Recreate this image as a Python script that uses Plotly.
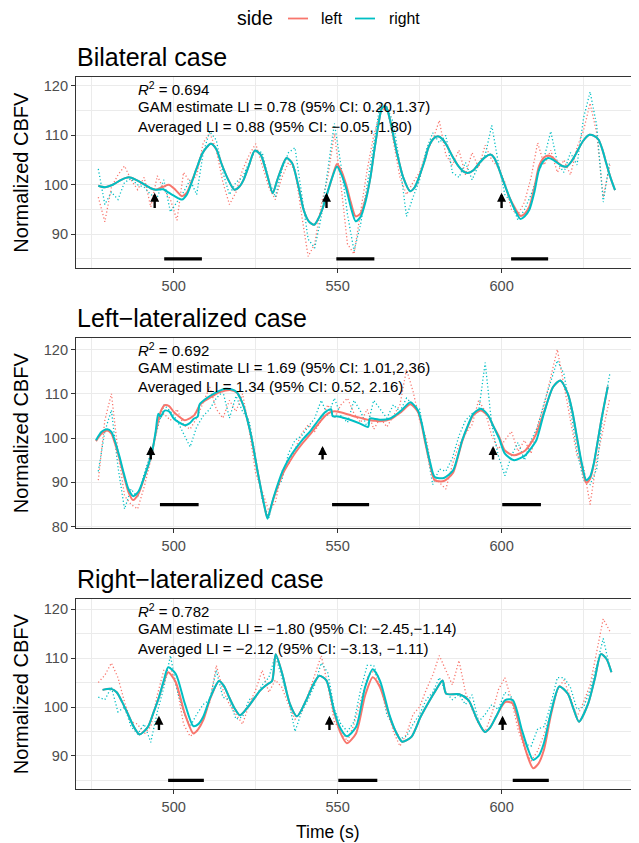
import plotly.graph_objects as go

RED = "#F8766D"
CYAN = "#00BFC4"
FONT = "Liberation Sans, Arial, Helvetica, sans-serif"

# ---------------- data ----------------
RAW_T = [477, 479, 481, 483, 485, 487, 489, 491, 493, 495,
         497, 499, 501, 503, 505, 507, 509, 511, 513, 515,
         517, 519, 521, 523, 525, 527, 529, 531, 533, 535,
         537, 539, 541, 543, 545, 547, 549, 551, 553, 555,
         557, 559, 561, 563, 565, 567, 569, 571, 573, 575,
         577, 579, 581, 583, 585, 587, 589, 591, 593, 595,
         597, 599, 601, 603, 605, 607, 609, 611, 613, 615,
         617, 619, 621, 623, 625, 627, 629, 631, 633]

P1_RAW_LEFT = [97.5, 92.5, 99.5, 102.0, 103.8, 101.0, 99.0, 101.5, 95.5, 101.8,
               99.0, 97.0, 92.8, 102.5, 100.5, 101.8, 108.5, 110.5, 107.0, 100.5,
               96.0, 98.5, 103.0, 106.0, 108.3, 104.0, 99.5, 97.0, 101.5, 104.5,
               103.0, 94.0, 85.5, 88.0, 96.0, 101.5, 110.4, 100.0, 88.0, 86.0,
               95.0, 103.0, 110.0, 114.5, 116.0, 109.0, 101.5, 98.0, 100.5, 102.5,
               106.5, 109.0, 113.0, 106.0, 104.0, 107.0, 102.0, 106.5, 103.5, 108.0,
               105.0, 103.5, 100.5, 95.0, 94.0, 96.5, 101.5, 108.5, 104.0, 107.0,
               102.5, 105.0, 102.0, 107.5, 111.0, 116.5, 110.5, 97.5, 104.0]
P1_RAW_RIGHT = [103.2, 96.0, 98.5, 97.0, 100.5, 101.2, 100.0, 99.5, 98.0, 97.5,
                101.0, 94.5, 96.5, 98.5, 101.0, 98.0, 106.5, 110.8, 109.0, 102.5,
                98.0, 100.5, 101.5, 104.5, 107.0, 106.5, 101.0, 97.5, 103.0, 106.5,
                107.5, 98.5, 89.0, 87.2, 93.5, 103.0, 112.4, 104.0, 94.0, 86.6,
                92.0, 100.0, 108.0, 116.5, 115.8, 112.5, 104.0, 93.6, 97.5, 101.0,
                107.0, 110.5, 108.5, 110.0, 102.5, 101.5, 104.5, 101.0, 104.0, 106.0,
                112.0, 104.5, 98.0, 96.5, 92.8, 95.0, 98.0, 102.0, 105.5, 110.8,
                104.5, 102.5, 106.5, 104.0, 113.5, 118.8, 112.0, 96.5, 104.8]

P2_RAW_LEFT = [90.5, 104.0, 110.0, 97.0, 87.0, 85.0, 84.0, 89.0, 95.0, 103.5,
               105.5, 104.0, 106.5, 103.0, 102.0, 104.5, 108.0, 111.5, 106.5, 104.5,
               108.5, 106.0, 110.0, 102.0, 92.0, 88.0, 83.5, 85.5, 92.5, 94.0,
               97.5, 101.0, 103.0, 101.5, 104.0, 107.5, 104.5, 107.5, 109.0, 105.5,
               103.5, 106.5, 102.0, 104.5, 102.5, 105.0, 107.5, 115.5, 110.5, 104.0,
               100.0, 91.5, 90.0, 88.5, 94.0, 98.5, 101.0, 103.0, 108.5, 106.0,
               100.5, 97.5, 99.5, 101.5, 97.0, 99.5, 96.5, 103.0, 107.5, 114.0,
               120.0, 112.0, 104.0, 96.0, 93.5, 85.0, 95.0, 102.0, 109.0]
P2_RAW_RIGHT = [92.5, 101.5, 106.3, 93.5, 84.0, 88.5, 86.5, 92.0, 96.5, 102.0,
                107.5, 106.0, 104.0, 101.0, 98.0, 102.5, 105.0, 106.5, 109.0, 110.5,
                104.5, 109.5, 106.0, 104.0, 95.5, 86.0, 82.0, 88.0, 90.5, 96.5,
                99.5, 100.5, 102.5, 104.5, 108.5, 105.0, 109.0, 105.0, 103.5, 108.5,
                106.0, 102.5, 108.5, 106.5, 104.5, 107.5, 106.0, 109.0, 107.5, 106.5,
                97.5, 89.5, 93.0, 92.5, 95.5, 100.5, 104.0, 105.5, 106.0, 117.0,
                103.0, 96.0, 91.5, 96.0, 99.0, 95.0, 99.5, 102.5, 108.0, 112.5,
                117.5, 114.5, 106.5, 97.0, 90.5, 89.5, 93.0, 106.0, 114.5]

P3_RAW_LEFT = [105.0, 106.5, 109.0, 106.0, 101.0, 97.0, 96.5, 94.5, 96.0, 102.5,
               107.5, 108.0, 104.0, 96.5, 94.0, 95.0, 97.5, 101.0, 108.5, 103.5,
               100.5, 98.5, 96.5, 100.5, 103.5, 107.5, 103.0, 105.5, 104.0, 100.5,
               97.5, 99.0, 102.5, 106.5, 110.5, 104.5, 97.0, 95.0, 93.0, 96.5,
               101.5, 106.0, 107.5, 104.0, 100.0, 95.0, 92.0, 94.5, 98.5, 100.0,
               103.5, 106.5, 110.5, 107.5, 104.5, 109.5, 103.0, 99.5, 96.5, 95.0,
               98.5, 103.5, 106.0, 101.5, 95.5, 91.5, 89.0, 91.0, 94.5, 99.0,
               103.5, 105.5, 102.0, 98.0, 101.0, 104.5, 111.0, 118.0, 115.5]
P3_RAW_RIGHT = [102.0, 101.5, 104.0, 99.0, 100.0, 96.0, 94.5, 96.5, 92.8, 99.0,
                104.0, 110.5, 103.5, 99.0, 96.0, 98.5, 100.5, 101.5, 107.5, 102.0,
                101.5, 97.5, 98.0, 101.5, 102.0, 104.5, 106.0, 110.5, 106.0, 101.5,
                95.0, 99.0, 101.5, 104.5, 109.0, 107.0, 99.5, 96.5, 95.0, 97.0,
                103.5, 108.5, 108.5, 105.0, 98.5, 96.0, 93.5, 94.0, 96.5, 98.5,
                101.5, 103.0, 106.0, 103.0, 101.5, 102.5, 100.5, 102.5, 97.0, 98.5,
                100.5, 99.5, 103.0, 102.0, 97.0, 92.5, 92.0, 95.5, 96.0, 100.5,
                106.0, 106.0, 104.0, 99.5, 100.0, 103.5, 108.5, 114.0, 108.0]

# GAM smooth fits
P1_T = [477, 479, 481.4, 484, 486.3, 488.5, 490.5, 493, 494.5, 496.8,
        498.5, 500.5, 502.5, 504, 505.4, 507, 508.8, 511.3, 513, 514.5,
        516.5, 518.5, 520, 521.3, 523, 524.7, 526.5, 528.5, 530.2, 531.5,
        532.7, 534.4, 536.1, 538, 539.6, 541.2, 542.8, 544, 545.3, 546.7,
        548.1, 549.8, 551.2, 552.7, 554, 555.5, 557, 558.4, 560, 561.2,
        562.4, 563.5, 564.5, 565.2, 566.5, 568.1, 570, 572.1, 573.5, 574.9,
        576.5, 577.8, 579.2, 580.6, 582, 583.5, 585.2, 586.9, 588.3, 589.7,
        591.5, 593.2, 595, 596.6, 597.8, 598.9, 600.5, 602.3, 604, 605.7,
        607, 608.5, 610, 611.4, 612.8, 614.2, 615.6, 617.1, 618.5, 619.9,
        621.4, 622.8, 624.8, 626.8, 628.2, 629.6, 630.8, 631.9, 633.2, 634.6]
P1_FIT_RIGHT = [99.8, 99.5, 100.0, 101.0, 101.5, 101.0, 100.3, 99.3, 99.0, 99.1,
                98.4, 97.6, 97.0, 98.0, 100.3, 103.3, 106.4, 108.3, 107.2, 104.4,
                101.2, 99.0, 99.6, 101.0, 104.0, 106.9, 106.1, 102.0, 98.3, 100.8,
                103.0, 105.4, 104.4, 99.8, 95.0, 92.6, 91.9, 93.0, 95.0, 98.0,
                101.0, 103.7, 102.0, 99.0, 95.5, 92.6, 93.5, 96.3, 101.5, 107.0,
                112.0, 115.5, 115.9, 115.1, 111.5, 106.4, 101.5, 98.7, 99.5, 101.7,
                104.8, 107.7, 109.3, 109.8, 109.2, 107.7, 105.5, 103.7, 102.7, 102.4,
                103.0, 104.4, 105.6, 106.1, 105.4, 103.7, 100.8, 97.6, 95.0, 93.1,
                93.6, 95.0, 98.5, 103.0, 104.8, 105.4, 105.1, 104.4, 103.8, 103.7,
                104.8, 106.4, 108.8, 110.1, 109.9, 109.1, 107.0, 104.4, 101.5, 98.9]
P1_FIT_LEFT = [99.8, 99.5, 100.0, 101.0, 101.5, 101.0, 100.3, 99.3, 99.0, 99.6,
               100.0, 99.0, 97.7, 98.4, 100.5, 103.3, 106.4, 108.3, 107.2, 104.4,
               101.2, 99.0, 99.6, 101.0, 104.0, 106.9, 106.1, 102.0, 98.3, 100.8,
               103.0, 105.4, 104.4, 99.8, 95.0, 92.6, 91.9, 93.0, 95.0, 98.0,
               101.0, 104.2, 102.7, 99.8, 96.5, 93.6, 94.2, 96.8, 101.5, 107.0,
               112.0, 115.5, 115.9, 115.1, 111.5, 106.4, 101.5, 98.7, 99.5, 101.7,
               104.8, 107.7, 109.3, 109.8, 109.2, 107.7, 105.5, 103.7, 102.7, 102.4,
               103.0, 104.4, 105.6, 106.1, 105.4, 103.7, 100.8, 97.6, 95.4, 93.7,
               94.1, 95.6, 99.4, 103.7, 105.4, 105.9, 105.5, 104.5, 103.8, 103.7,
               104.8, 106.4, 108.8, 110.1, 109.9, 109.1, 107.0, 104.4, 101.5, 98.9]

P2_T = [476.3, 478, 479.7, 481, 482, 483.4, 484.8, 486.2, 487.6, 489.3,
        491, 492.3, 493.5, 494.5, 495.3, 496, 497.2, 498.6, 500, 501.7,
        503.4, 504.8, 506.2, 507.3, 507.9, 509.5, 511.3, 513.5, 515.8, 517.5,
        519.2, 520.3, 521.4, 522.5, 523.7, 525.7, 527.7, 528.6, 529.5, 530.5,
        533.3, 535.2, 537.2, 539.5, 541.8, 544, 546.3, 548, 548.5, 549.7,
        552, 554.2, 556.7, 559.3, 559.8, 561.5, 563.2, 566, 567.7, 569.4,
        572.2, 574.5, 575.6, 576.7, 578.2, 579.6, 582.4, 585.2, 586.6, 588,
        589.7, 591.4, 593.7, 595.9, 597.6, 599.3, 601, 603.8, 607.2, 608.9,
        610.6, 612.9, 615.7, 617.9, 620.2, 621.6, 623, 624.4, 625.8, 627,
        628.1, 630.4, 632.4]
P2_FIT_RIGHT = [99.5, 101.4, 102.0, 101.4, 99.5, 96.0, 92.0, 88.5, 86.9, 88.0,
                91.2, 94.0, 97.2, 101.5, 105.5, 104.8, 106.2, 106.0, 104.4, 103.5,
                102.9, 103.3, 104.4, 104.8, 107.6, 108.7, 109.6, 110.5, 111.1, 111.0,
                110.4, 109.0, 107.0, 104.0, 100.2, 92.0, 84.5, 81.8, 84.0, 86.7,
                92.7, 95.4, 97.6, 99.8, 101.7, 103.9, 105.9, 106.5, 104.9, 104.9,
                104.5, 104.0, 103.3, 102.5, 104.4, 104.3, 104.1, 104.4, 105.2, 106.2,
                108.1, 106.2, 103.5, 99.5, 94.5, 91.2, 91.0, 92.7, 95.8, 99.5,
                102.8, 105.5, 106.6, 105.1, 102.5, 99.8, 96.5, 95.0, 96.1, 97.6,
                99.5, 105.5, 111.5, 113.0, 110.0, 106.0, 100.2, 94.5, 90.5, 91.3,
                94.2, 104.0, 111.6]
P2_FIT_LEFT = [99.3, 101.0, 101.7, 101.0, 99.0, 95.5, 91.5, 87.8, 86.0, 87.5,
               91.0, 94.0, 97.2, 101.0, 104.0, 105.9, 107.4, 107.2, 105.9, 104.8,
               104.0, 104.4, 105.1, 106.5, 107.4, 108.4, 109.2, 110.2, 110.7, 110.8,
               110.3, 109.0, 107.0, 104.0, 100.2, 92.0, 84.5, 82.0, 84.0, 86.5,
               92.0, 94.5, 96.8, 99.0, 101.0, 103.1, 105.1, 105.9, 106.0, 106.0,
               105.6, 105.1, 104.6, 104.1, 104.0, 103.9, 103.8, 104.2, 105.0, 105.9,
               107.6, 105.9, 103.0, 99.0, 94.0, 90.5, 90.3, 92.2, 95.5, 99.3,
               102.6, 105.2, 106.2, 105.0, 102.5, 100.2, 97.2, 96.1, 97.2, 98.8,
               101.0, 105.8, 111.5, 113.0, 110.0, 105.8, 99.8, 94.0, 89.9, 90.8,
               94.0, 104.0, 111.6]

P3_T = [478.3, 480.9, 482.6, 484.3, 486, 487.8, 489.6, 492.1, 493.8, 495.5,
        497, 498.3, 500.6, 503.4, 506, 507.5, 509, 511.2, 513.8, 515.3,
        516.9, 518.5, 520.2, 523, 526.4, 528.5, 530, 531.1, 533.1, 535.4,
        537.6, 540.4, 542.5, 544.4, 546.6, 548.9, 550.8, 552.8, 555.6, 558.4,
        560.7, 562.9, 565.7, 567.7, 569.7, 572.5, 575.3, 578.1, 580, 582,
        583.1, 587.1, 589.9, 592.5, 594.9, 596.5, 598.3, 601.1, 603.4, 606.2,
        608, 609.6, 611.3, 612.9, 615.2, 617.6, 620.2, 622, 623.6, 626.4,
        628.5, 630.3, 632, 633.5]
P3_FIT_RIGHT = [103.5, 103.7, 103.0, 101.0, 98.6, 96.0, 94.4, 95.9, 98.8, 102.0,
                105.5, 108.1, 106.8, 100.7, 96.1, 96.5, 98.0, 102.0, 105.3, 104.3,
                102.0, 99.8, 98.3, 100.3, 103.4, 104.6, 105.3, 110.8, 106.8, 100.7,
                98.1, 101.4, 104.5, 106.4, 105.4, 99.3, 95.7, 94.0, 95.9, 104.1,
                107.7, 105.4, 98.6, 95.0, 92.9, 93.9, 98.0, 101.4, 103.5, 105.4,
                102.7, 102.6, 101.4, 97.5, 94.9, 95.8, 98.0, 101.4, 101.4, 95.3,
                91.5, 89.2, 90.0, 92.6, 99.3, 104.2, 102.7, 99.5, 97.0, 100.7,
                106.0, 110.8, 109.8, 107.1]
P3_FIT_LEFT = [103.5, 103.7, 103.0, 101.0, 98.6, 96.0, 94.4, 95.9, 98.8, 102.0,
               105.2, 107.1, 105.1, 98.6, 94.6, 95.5, 97.3, 101.8, 105.3, 104.3,
               102.0, 99.8, 98.3, 100.3, 103.4, 104.6, 105.3, 110.8, 106.8, 100.7,
               98.1, 101.4, 104.5, 106.4, 105.4, 99.0, 94.8, 92.6, 94.6, 102.4,
               106.1, 104.1, 98.3, 95.0, 92.9, 93.9, 98.0, 101.4, 103.5, 105.4,
               102.7, 102.6, 101.4, 97.5, 94.9, 95.8, 98.0, 101.0, 100.7, 93.9,
               89.8, 87.5, 88.5, 91.2, 98.8, 104.2, 102.7, 99.5, 97.0, 100.7,
               106.0, 110.8, 109.8, 107.1]

# task onset arrows and task blocks
P1_ARROW_T = [494.2, 546.6, 600.0]
P2_ARROW_T = [493.0, 545.4, 597.4]
P3_ARROW_T = [495.5, 547.5, 600.3]
ARROW_FROM = [95.0, 94.8, 95.0]
ARROW_TO = [98.4, 98.2, 98.2]
P1_BLOCK_START = [497.1, 549.6, 602.9]
P1_BLOCK_END = [508.6, 561.2, 614.2]
P2_BLOCK_START = [495.8, 548.3, 600.2]
P2_BLOCK_END = [507.6, 559.6, 612.0]
P3_BLOCK_START = [498.3, 550.2, 603.4]
P3_BLOCK_END = [509.2, 562.1, 614.4]
BLOCK_LEVEL = 85

TITLES = ["Bilateral case", "Left\u2212lateralized case", "Right\u2212lateralized case"]
R2 = ["0.694", "0.692", "0.782"]
GAM_TXT = ["GAM estimate LI = 0.78 (95% CI: 0.20,1.37)",
           "GAM estimate LI = 1.69 (95% CI: 1.01,2.36)",
           "GAM estimate LI = \u22121.80 (95% CI: \u22122.45,\u22121.14)"]
AVG_TXT = ["Averaged LI = 0.88 (95% CI: \u22120.05, 1.80)",
           "Averaged LI = 1.34 (95% CI: 0.52, 2.16)",
           "Averaged LI = \u22122.12 (95% CI: \u22123.13, \u22121.11)"]
Y_RANGES = [[83.1, 121.8], [79.64, 122.5], [83.25, 122.0]]
Y_TICKS = [[90, 100, 110, 120], [80, 90, 100, 110, 120], [90, 100, 110, 120]]
X_TICKS = [500, 550, 600]
X_MINOR = [475, 525, 575, 625]

panels = [
    dict(raw_l=P1_RAW_LEFT, raw_r=P1_RAW_RIGHT, t=P1_T, fl=P1_FIT_LEFT, fr=P1_FIT_RIGHT,
         arrows=P1_ARROW_T, bs=P1_BLOCK_START, be=P1_BLOCK_END),
    dict(raw_l=P2_RAW_LEFT, raw_r=P2_RAW_RIGHT, t=P2_T, fl=P2_FIT_LEFT, fr=P2_FIT_RIGHT,
         arrows=P2_ARROW_T, bs=P2_BLOCK_START, be=P2_BLOCK_END),
    dict(raw_l=P3_RAW_LEFT, raw_r=P3_RAW_RIGHT, t=P3_T, fl=P3_FIT_LEFT, fr=P3_FIT_RIGHT,
         arrows=P3_ARROW_T, bs=P3_BLOCK_START, be=P3_BLOCK_END),
]
for p in panels:
    assert len(p["raw_l"]) == len(RAW_T) == len(p["raw_r"])
    assert len(p["t"]) == len(p["fl"]) == len(p["fr"])

# ---------------- layout geometry ----------------
# the page body adds an 8px margin, so the figure is 8px smaller and positions
# below are given in window pixels and shifted by OFF.
OFF = 8
W, H = 639 - OFF, 843 - OFF
ML, MR, MT, MB = 76 - OFF, 2, 77 - OFF, 54
PW, PH = W - ML - MR, H - MT - MB
def px(x):
    return (x - OFF - ML) / PW
def py(y):
    return (H - MB - (y - OFF)) / PH

DOMAINS = [[py(268.3), 1.0], [py(528.3), py(338.3)], [0.0, py(599.3)]]
TITLE_Y = [56.5, 317.5, 578.5]
TXT_Y = [[88, 106.8, 126.6], [349.5, 367.5, 386.0], [610.5, 628.8, 648.3]]

fig = go.Figure()
annotations = []
for i, p in enumerate(panels):
    xa = "x" if i == 0 else f"x{i+1}"
    ya = "y" if i == 0 else f"y{i+1}"
    fig.add_trace(go.Scatter(x=RAW_T, y=p["raw_l"], mode="lines", xaxis=xa, yaxis=ya,
                             line=dict(color=RED, width=1.3, dash="1.2px,2.3px"),
                             showlegend=False, hoverinfo="skip"))
    fig.add_trace(go.Scatter(x=RAW_T, y=p["raw_r"], mode="lines", xaxis=xa, yaxis=ya,
                             line=dict(color=CYAN, width=1.3, dash="1.2px,2.3px"),
                             showlegend=False, hoverinfo="skip"))
    fig.add_trace(go.Scatter(x=p["t"], y=p["fl"], mode="lines", xaxis=xa, yaxis=ya,
                             name="left", line=dict(color=RED, width=2.0, shape="spline", smoothing=0.7),
                             showlegend=False))
    fig.add_trace(go.Scatter(x=p["t"], y=p["fr"], mode="lines", xaxis=xa, yaxis=ya,
                             name="right", line=dict(color=CYAN, width=2.0, shape="spline", smoothing=0.7),
                             showlegend=False))
    bx, by = [], []
    for s, e in zip(p["bs"], p["be"]):
        bx += [s, e, None]
        by += [BLOCK_LEVEL, BLOCK_LEVEL, None]
    fig.add_trace(go.Scatter(x=bx, y=by, mode="lines", xaxis=xa, yaxis=ya,
                             line=dict(color="black", width=3.3), showlegend=False, hoverinfo="skip"))
    for t in p["arrows"]:
        annotations.append(dict(x=t, y=ARROW_TO[i], ax=t, ay=ARROW_FROM[i], xref=xa, yref=ya,
                                axref=xa, ayref=ya, showarrow=True, arrowhead=2, arrowsize=0.75,
                                arrowwidth=2.4, arrowcolor="black", text="", standoff=0, startstandoff=0))
    annotations.append(dict(text=TITLES[i], xref="paper", yref="paper", x=px(74.5), y=py(TITLE_Y[i]),
                            xanchor="left", yanchor="middle", showarrow=False,
                            font=dict(size=25, color="black", family=FONT)))
    lines = [f"<i>R</i><sup>2</sup> = {R2[i]}", GAM_TXT[i], AVG_TXT[i]]
    for k, txt in enumerate(lines):
        annotations.append(dict(text=txt, xref=xa, yref="paper", x=488.4, y=py(TXT_Y[i][k]),
                                xanchor="left", yanchor="middle", showarrow=False,
                                font=dict(size=15, color="black", family=FONT)))

axis_common = dict(showline=True, mirror=True, linecolor="#333333", linewidth=1.1,
                   ticks="outside", ticklen=4, tickwidth=1.1, tickcolor="#333333",
                   gridcolor="#EBEBEB", gridwidth=1.1, zeroline=False,
                   tickfont=dict(size=14.6, color="#4D4D4D", family=FONT))
layout = dict(width=W, height=H, margin=dict(l=ML, r=MR, t=MT, b=MB),
              paper_bgcolor="white", plot_bgcolor="white", showlegend=False,
              font=dict(family=FONT, color="black"))
for i in range(3):
    xk = "xaxis" if i == 0 else f"xaxis{i+1}"
    yk = "yaxis" if i == 0 else f"yaxis{i+1}"
    ya = "y" if i == 0 else f"y{i+1}"
    xa = "x" if i == 0 else f"x{i+1}"
    layout[xk] = dict(axis_common, domain=[0, 1], anchor=ya, range=[470.2, 641.3],
                      tickvals=X_TICKS,
                      minor=dict(tickvals=X_MINOR, showgrid=True,
                                 gridcolor="#EBEBEB", gridwidth=0.55, ticks=""))
    layout[yk] = dict(axis_common, domain=DOMAINS[i], anchor=xa, range=Y_RANGES[i],
                      tickvals=Y_TICKS[i],
                      minor=dict(dtick=5, tick0=85, showgrid=True,
                                 gridcolor="#EBEBEB", gridwidth=0.55, ticks=""),
                      title=dict(text="Normalized CBFV", standoff=9,
                                 font=dict(size=20, color="black", family=FONT)))
fig.update_layout(**layout)

annotations.append(dict(text="Time (s)", xref="paper", yref="paper", x=px(328), y=py(831.5),
                        xanchor="center", yanchor="middle", showarrow=False,
                        font=dict(size=17.5, color="black", family=FONT)))
annotations.append(dict(text="side", xref="paper", yref="paper", x=px(235), y=py(18),
                        xanchor="left", yanchor="middle", showarrow=False,
                        font=dict(size=19.5, color="black", family=FONT)))
annotations.append(dict(text="left", xref="paper", yref="paper", x=px(319), y=py(18),
                        xanchor="left", yanchor="middle", showarrow=False,
                        font=dict(size=15.8, color="black", family=FONT)))
annotations.append(dict(text="right", xref="paper", yref="paper", x=px(387), y=py(18),
                        xanchor="left", yanchor="middle", showarrow=False,
                        font=dict(size=15.8, color="black", family=FONT)))
fig.update_layout(annotations=annotations)
shapes = [
    dict(type="line", xref="paper", yref="paper", x0=px(288), x1=px(308), y0=py(18.5), y1=py(18.5),
         line=dict(color=RED, width=1.8)),
    dict(type="line", xref="paper", yref="paper", x0=px(355), x1=px(375), y0=py(18.5), y1=py(18.5),
         line=dict(color=CYAN, width=1.8)),
]
fig.update_layout(shapes=shapes)

fig.write_html("out.html")
